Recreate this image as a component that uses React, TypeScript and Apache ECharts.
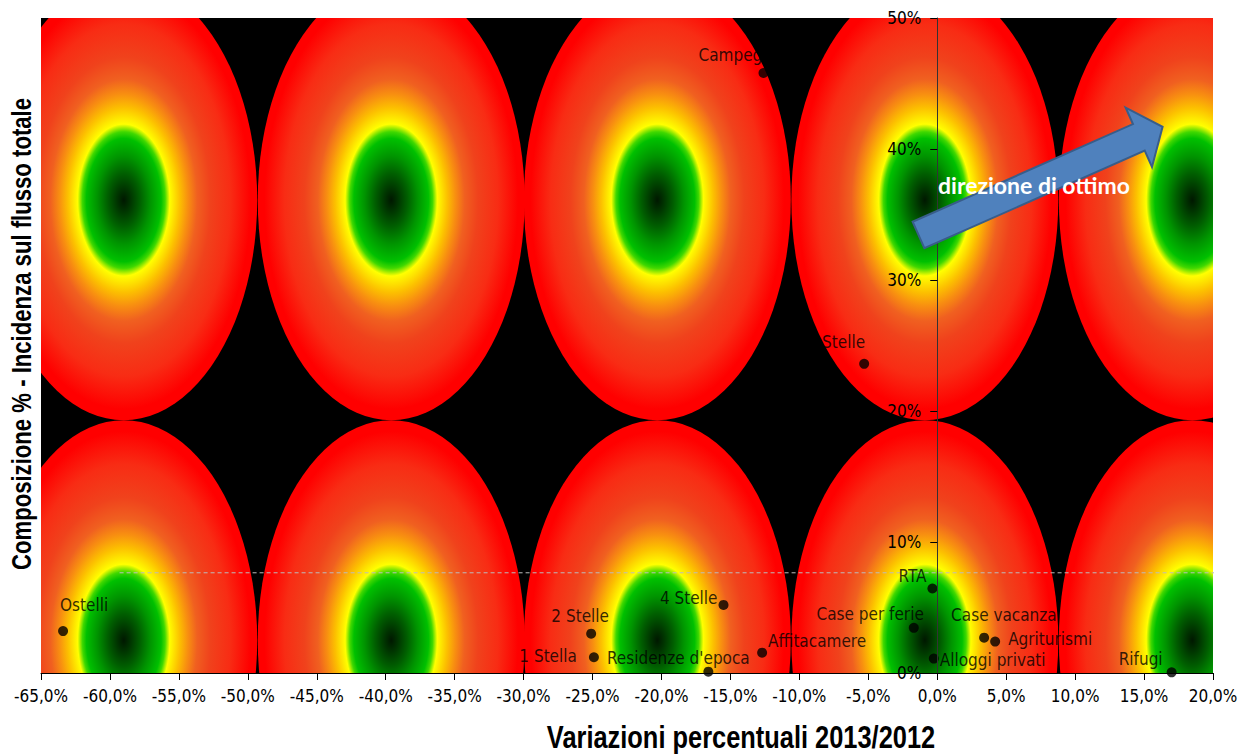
import React, { useEffect, useRef } from 'react';
import * as echarts from 'echarts';

// ---- data ----
const categories = [
  'Ostelli', '2 Stelle', '1 Stella', "Residenze d'epoca", '4 Stelle', 'Affitacamere',
  'Case per ferie', 'RTA', 'Alloggi privati', 'Case vacanza', 'Agriturismi', 'Rifugi',
  'Campeggi', '3 Stelle',
];
const variazioni = [-63.4, -25.1, -24.9, -16.6, -15.5, -12.7, -1.7, -0.35, -0.25, 3.4, 4.2, 17.0, -12.6, -5.3];
const composizione = [3.2, 3.0, 1.2, 0.1, 5.2, 1.55, 3.45, 6.45, 1.1, 2.7, 2.4, 0.05, 45.8, 23.6];

const xMin = -65;
const xMax = 20;
const xStep = 5;
const yMin = 0;
const yMax = 50;
const yStep = 10;

const averageLevel = 7.65;
const averageSpan = [-59.3, 21.2];

// background tiles (decoration)
const tileCentersX = [-59.0, -39.6, -20.3, -0.9, 18.5];
const tileCentersY = [36.1, 2.5];
const tileRadiusX = 9.68;
const tileRadiusY = 16.8;

// label placement: [align, dx, dy] relative to the dot centre
const labelPlacement: Record<string, [string, number, number]> = {
  'Ostelli': ['left', -3, -26],
  '2 Stelle': ['center', -11, -18],
  '1 Stella': ['right', -17, -1],
  "Residenze d'epoca": ['center', -30, -14],
  '4 Stelle': ['right', -6, -7],
  'Affitacamere': ['left', 6, -12],
  'Case per ferie': ['right', 10, -14],
  'RTA': ['right', -6, -13],
  'Alloggi privati': ['left', 6, 1],
  'Case vacanza': ['left', -33, -23],
  'Agriturismi': ['left', 13, -3],
  'Rifugi': ['right', -9, -13],
  'Campeggi': ['left', -65, -18],
  '3 Stelle': ['right', 1, -22],
};

const GRID = { left: 41, right: 27, top: 18, bottom: 81 };
const WIDTH = 1240;
const HEIGHT = 754;

const FONT = "'DejaVu Sans Condensed', 'Liberation Sans', sans-serif";
const TITLE_FONT = "'Liberation Sans', Arial, sans-serif";
const LABEL_SIZE = 17;

const tileGradient = {
  type: 'radial', x: 0.5, y: 0.5, r: 0.5,
  colorStops: [
    { offset: 0, color: '#001800' },
    { offset: 0.05, color: '#003400' },
    { offset: 0.12, color: '#005e00' },
    { offset: 0.2, color: '#009400' },
    { offset: 0.28, color: '#00c000' },
    { offset: 0.31, color: '#40d800' },
    { offset: 0.345, color: '#ffff00' },
    { offset: 0.42, color: '#fcc000' },
    { offset: 0.48, color: '#f89010' },
    { offset: 0.55, color: '#f06020' },
    { offset: 0.65, color: '#f0421c' },
    { offset: 0.8, color: '#f82c14' },
    { offset: 0.95, color: '#ff0000' },
    { offset: 1, color: '#ff0000' },
  ],
};

function arrowPoints() {
  const T = [918.5, 235];
  const a = (23.9 * Math.PI) / 180;
  const u = [Math.cos(a), -Math.sin(a)];
  const n = [Math.sin(a), Math.cos(a)];
  const L = 267, bh = 14.5, hh = 32.5, hl = 26;
  const p = (s: number, t: number) => [T[0] + u[0] * s + n[0] * t, T[1] + u[1] * s + n[1] * t];
  return [p(0, -bh), p(L - hl, -bh), p(L - hl, -hh), p(L, 0), p(L - hl, hh), p(L - hl, bh), p(0, bh)];
}

export default function App() {
  const ref = useRef<HTMLDivElement>(null);
  useEffect(() => {
    const chart = echarts.init(ref.current as HTMLDivElement, null, { renderer: 'svg' });
    const tiles: number[][] = [];
    tileCentersY.forEach((cy) => tileCentersX.forEach((cx) => tiles.push([cx, cy])));

    const scatterData = categories.map((name, i) => {
      const lp = labelPlacement[name];
      return {
        name,
        value: [variazioni[i], composizione[i]],
        label: { position: 'inside', align: lp[0], verticalAlign: 'middle', offset: [lp[1], lp[2]] },
      };
    });

    // place the y axis where x = 0
    const plotWidth = WIDTH - GRID.left - GRID.right;
    const yAxisOffset = -((0 - xMin) / (xMax - xMin)) * plotWidth;

    const option: any = {
      animation: false,
      textStyle: { fontFamily: FONT },
      grid: {
        ...GRID,
        outerBoundsMode: 'none',
        containLabel: false,
        show: true, backgroundColor: '#000000', borderWidth: 0,
      },
      xAxis: {
        type: 'value', min: xMin, max: xMax, interval: xStep, z: 5,
        axisLine: { show: true, onZero: false, lineStyle: { color: '#000', width: 1 } },
        axisTick: { show: true, length: 7, lineStyle: { color: '#000' } },
        splitLine: { show: false },
        axisLabel: {
          margin: 14, color: '#000', fontSize: LABEL_SIZE, fontFamily: FONT,
          formatter: (v: number) => v.toFixed(1).replace('.', ',') + '%',
        },
      },
      yAxis: {
        type: 'value', min: yMin, max: yMax, interval: yStep, z: 5,
        position: 'left',
        offset: yAxisOffset,
        axisLine: { show: true, onZero: false, lineStyle: { color: '#333', width: 1 } },
        axisTick: { show: true, length: 7, lineStyle: { color: '#000' } },
        splitLine: { show: false },
        axisLabel: {
          margin: 16, color: '#000', fontSize: LABEL_SIZE, fontFamily: FONT,
          formatter: (v: number) => v + '%',
        },
      },
      series: [
        {
          type: 'custom',
          z: 1,
          clip: true,
          silent: true,
          data: tiles,
          encode: { x: 0, y: 1 },
          renderItem: (params: any, api: any) => {
            const c = api.coord([api.value(0), api.value(1)]);
            const s = api.size([tileRadiusX, tileRadiusY]);
            return {
              type: 'circle',
              x: c[0], y: c[1],
              scaleY: s[1] / s[0],
              shape: { cx: 0, cy: 0, r: s[0] },
              style: { fill: tileGradient },
            };
          },
        },
        {
          type: 'line',
          z: 2,
          clip: false,
          silent: true,
          symbol: 'none',
          data: [[averageSpan[0], averageLevel], [averageSpan[1], averageLevel]],
          lineStyle: { color: '#bdbdbd', width: 1, type: [4, 3] },
        },
        {
          type: 'scatter',
          z: 3,
          symbolSize: 10,
          itemStyle: { color: '#000' },
          label: {
            show: true, formatter: '{b}', color: '#000', fontSize: LABEL_SIZE, fontFamily: FONT,
          },
          data: scatterData,
        },
      ],
      graphic: [
        {
          type: 'polygon', z: 100,
          shape: { points: arrowPoints() },
          style: { fill: '#4f81bd', stroke: '#385d8a', lineWidth: 2 },
        },
        {
          type: 'text', z: 101, x: 938, y: 185,
          style: {
            text: 'direzione di ottimo', fill: '#fff', font: "bold 23px Lato, 'Open Sans', sans-serif",
            textAlign: 'left', textVerticalAlign: 'middle',
          },
        },
        {
          type: 'text', z: 101, x: 741, y: 737, scaleX: 0.82,
          style: {
            text: 'Variazioni percentuali 2013/2012', fill: '#000',
            font: 'bold 31px ' + TITLE_FONT, textAlign: 'center', textVerticalAlign: 'middle',
          },
        },
        {
          type: 'text', z: 101, x: 22, y: 334, rotation: Math.PI / 2, scaleX: 0.82,
          style: {
            text: 'Composizione % - Incidenza sul flusso totale', fill: '#000',
            font: 'bold 27px ' + TITLE_FONT, textAlign: 'center', textVerticalAlign: 'middle',
          },
        },
      ],
    };
    chart.setOption(option);
    return () => chart.dispose();
  }, []);
  return (
    <div
      ref={ref}
      style={{ position: 'fixed', left: 0, top: 0, width: WIDTH, height: HEIGHT, background: '#fff' }}
    />
  );
}
